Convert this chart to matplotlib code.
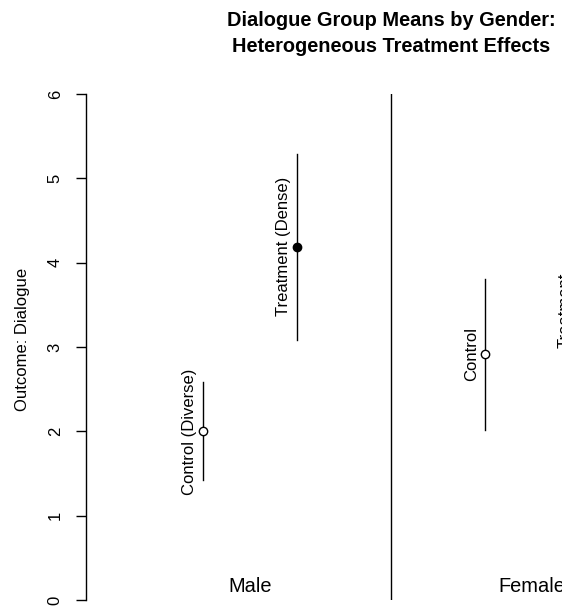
import numpy as np
import matplotlib
matplotlib.use("Agg")
import matplotlib.pyplot as plt

plt.rcParams['font.family'] = ['Liberation Sans', 'DejaVu Sans']

# group positions and labels
xpos = [1, 2, 4, 5]
labels = ["Control (Diverse)", "Treatment (Dense)", "Control", "Treatment"]
means = [2.00, 4.19, 2.92, 3.44]
lower = [1.42, 3.08, 2.02, 2.55]
upper = [2.58, 5.29, 3.81, 4.35]
treated = [False, True, False, True]
groups = ["Male", "Female"]
group_x = [1.5, 4.5]
divider_x = 3
yticks = [0, 1, 2, 3, 4, 5, 6]

W, H = 562, 606
fig = plt.figure(figsize=(W / 100, H / 100), dpi=100)
# plot region runs past the right edge (the reference is cropped)
ax = fig.add_axes([86.4 / W, 6 / H, 6.48 * 94 / W, 506 / H])
ax.set_xlim(-0.24, 6.24)
ax.set_ylim(0, 6)

for i in range(len(xpos)):
    ax.plot([xpos[i], xpos[i]], [lower[i], upper[i]], color='black', lw=1, zorder=2)
    face = 'black' if treated[i] else 'white'
    ax.plot(xpos[i], means[i], 'o', ms=6, mfc=face, mec='black', mew=1, zorder=3)
    ax.annotate(labels[i], (xpos[i], means[i]), xytext=(-6, 0), textcoords='offset pixels',
                rotation=90, ha='right', va='center', fontsize=12)

ax.axvline(divider_x, color='black', lw=1)

for g, gx in zip(groups, group_x):
    ax.text(gx, 0.1, g, ha='center', va='baseline', fontsize=14.4)

for s in ['top', 'right', 'bottom']:
    ax.spines[s].set_visible(False)
ax.spines['left'].set_linewidth(1)
ax.set_xticks([])
ax.set_yticks(yticks)
ax.tick_params(axis='y', length=7, width=1, pad=10, labelsize=12, labelrotation=90)
for t in ax.get_yticklabels():
    t.set_va('center')

fig.text(23 / W, 1 - 339 / H, "Outcome: Dialogue", rotation=90, ha='center', va='center', fontsize=12)
fig.text(391 / W, 1 - 26 / H, "Dialogue Group Means by Gender:", ha='center', va='baseline',
         fontsize=14.4, fontweight='bold')
fig.text(391 / W, 1 - 51.5 / H, "Heterogeneous Treatment Effects", ha='center', va='baseline',
         fontsize=14.4, fontweight='bold')

fig.savefig("out.png", dpi=100)
